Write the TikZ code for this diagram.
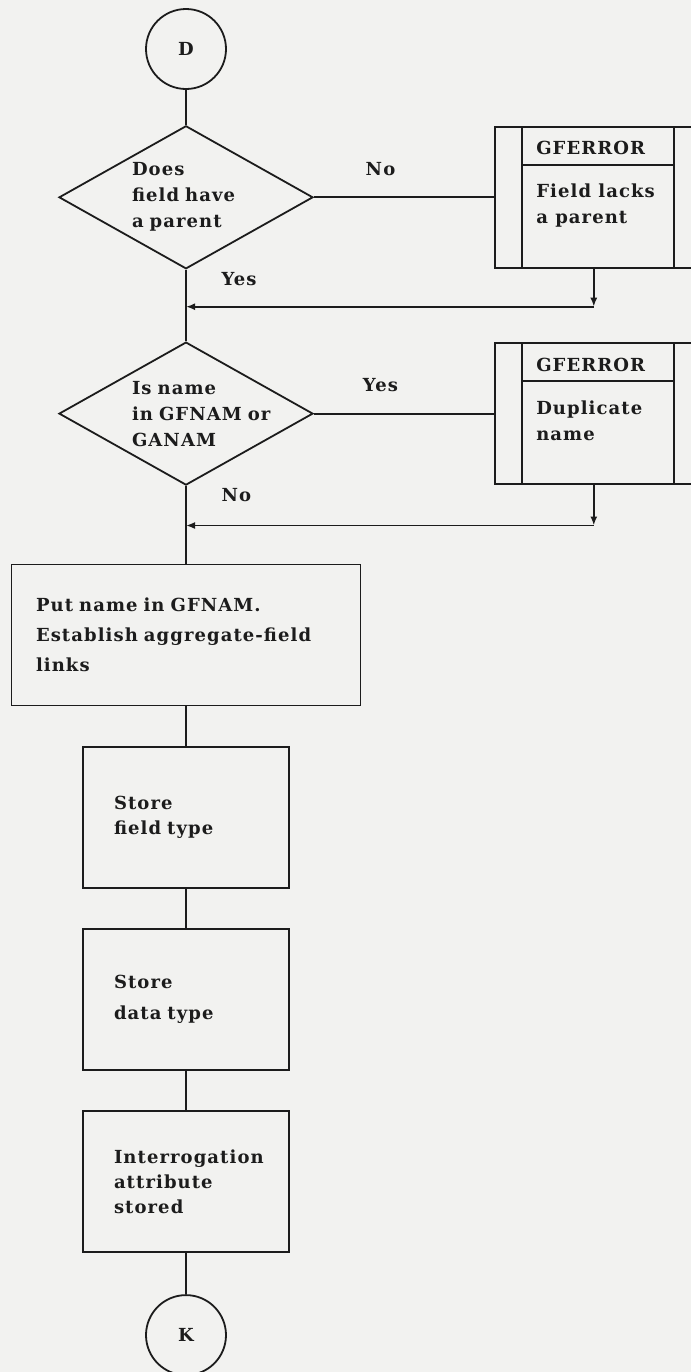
\documentclass[tikz,border=0pt]{standalone}
\usepackage{fontspec}
\setmainfont{DejaVu Serif}[LetterSpace=6]
\usepackage{tikz}
\usetikzlibrary{shapes.geometric, arrows.meta, positioning}
\definecolor{ink}{HTML}{1C1C1C}
\definecolor{paper}{HTML}{F2F2F0}
\newcommand{\flowfont}[1]{\fontsize{9pt}{#1}\selectfont\bfseries}

\begin{document}
\begin{tikzpicture}[
  node distance=19.75pt,
  every node/.style={text=ink},
  line/.style={draw=ink, line width=0.9pt},
  arrow/.style={line, -{Latex[length=4.5pt, width=3.5pt]}},
  connector/.style={circle, draw=ink, line width=0.9pt, minimum size=40pt,
              inner sep=0pt, font=\flowfont{11pt}},
  decision/.style={diamond, aspect=1.8, draw=ink, line width=0.9pt,
              minimum width=127pt, minimum height=71.5pt, inner sep=0pt,
              text width=54pt, align=left, font=\flowfont{13pt}},
  process/.style={rectangle, draw=ink, line width=0.9pt, minimum width=103pt,
              minimum height=70.5pt, inner sep=0pt, text width=72pt,
              align=left, font=\flowfont{12.5pt}},
  errbox/.style={rectangle, draw=ink, line width=0.9pt, minimum width=99pt,
              minimum height=70.5pt,
              path picture={
                \draw[ink, line width=0.9pt]
                  ([xshift=13.5pt]path picture bounding box.north west) --
                  ([xshift=13.5pt]path picture bounding box.south west)
                  ([xshift=-9.5pt]path picture bounding box.north east) --
                  ([xshift=-9.5pt]path picture bounding box.south east)
                  ([xshift=13.5pt, yshift=-19pt]path picture bounding box.north west) --
                  ([xshift=-9.5pt, yshift=-19pt]path picture bounding box.north east);
              }},
  errtext/.style={inner sep=0pt, align=left, font=\flowfont{13pt}},
  answer/.style={font=\flowfont{11pt}},
]

\fill[paper] (0pt,0pt) rectangle (345.5pt,-686pt);
\useasboundingbox (0pt,0pt) rectangle (345.5pt,-686pt);

\node[connector] (startD) at (93pt,-24.5pt) {D};

\node[decision, below=17.5pt of startD] (hasparent)
  {Does\\field have\\a parent};

\node[errbox, right=90pt of hasparent] (noparent) {};
\node[errtext, anchor=base west] (noparenthead)
  at ([xshift=21pt, yshift=-14.25pt]noparent.north west) {GFERROR};
\node[errtext, anchor=north west] (noparentmsg)
  at ([xshift=21pt, yshift=-29pt]noparent.north west) {Field lacks\\a parent};

\coordinate[below=18.5pt of hasparent] (join1);
\coordinate (back1) at (noparent.south |- join1);

\node[decision, below=17.25pt of join1] (isdup)
  {Is name\\\mbox{in GFNAM or}\\GANAM};

\node[errbox, right=90pt of isdup] (dupname) {};
\node[errtext, anchor=base west] (dupnamehead)
  at ([xshift=21pt, yshift=-14.75pt]dupname.north west) {GFERROR};
\node[errtext, anchor=north west] (dupnamemsg)
  at ([xshift=21pt, yshift=-29pt]dupname.north west) {Duplicate\\name};

\coordinate[below=19.75pt of isdup] (join2);
\coordinate (back2) at (dupname.south |- join2);

\node[process, minimum width=174.5pt, text width=150pt, font=\flowfont{15pt},
  below=19pt of join2] (putname)
  {Put name in GFNAM.\\Establish aggregate-field\\links};

\node[process, below=of putname] (fieldtype) {Store\\field type};

\node[process, font=\flowfont{15.5pt}, below=of fieldtype] (datatype)
  {Store\\data type};

\node[process, below=of datatype] (interrog)
  {Interrogation\\attribute\\stored};

\node[connector, below=20.5pt of interrog] (endK) {K};

\draw[line] (startD) -- (hasparent);
\draw[line] (hasparent) -- node[answer, pos=0.37, above=7pt] {No} (noparent);
\draw[line] (hasparent) -- node[answer, pos=0.25, right=14pt] {Yes} (join1) -- (isdup);
\draw[arrow] (noparent) -- (back1);
\draw[arrow] (back1) -- (join1);
\draw[line] (isdup) -- node[answer, pos=0.37, above=7pt] {Yes} (dupname);
\draw[line] (isdup) -- node[answer, pos=0.24, right=14pt] {No} (join2) -- (putname);
\draw[arrow] (dupname) -- (back2);
\draw[arrow] (back2) -- (join2);
\draw[line] (putname) -- (fieldtype);
\draw[line] (fieldtype) -- (datatype);
\draw[line] (datatype) -- (interrog);
\draw[line] (interrog) -- (endK);

\end{tikzpicture}
\end{document}
